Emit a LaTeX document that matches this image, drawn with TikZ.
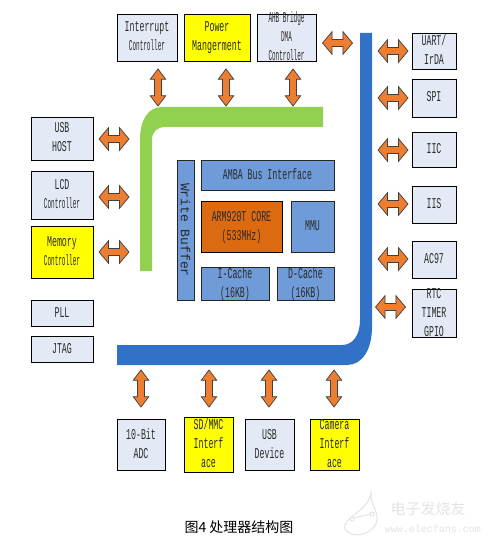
\documentclass[tikz,border=0pt]{standalone}
\usepackage{fontspec}
\usetikzlibrary{shapes.arrows}
\setmainfont{Liberation Mono}[FakeStretch=0.55]
\newfontfamily\fnarrow{Liberation Mono}[FakeStretch=0.40]
\newfontfamily\fwide{Liberation Mono}
\newfontfamily\fcjk{Noto Sans CJK SC}
\definecolor{boxfill}{HTML}{E4EAF5}
\definecolor{chipyellow}{HTML}{FFFF00}
\definecolor{busblue}{HTML}{3272C6}
\definecolor{busgreen}{HTML}{92D050}
\definecolor{arroworange}{HTML}{ED7D31}
\definecolor{innerblue}{HTML}{6F9BD8}
\definecolor{coreorange}{HTML}{DC6A10}
\definecolor{inktext}{HTML}{2A2A2A}
\definecolor{wmark}{HTML}{E4E4E4}
\newcommand{\stacked}[1]{\raisebox{-7.6pt}{\smash{\begin{tabular}{@{}c@{}}#1\end{tabular}}}}
\newcommand{\nw}[1]{{\fnarrow #1}}
% style, name, x1, y1, x2, y2, text
\newcommand{\blockbox}[7]{%
  \pgfmathsetmacro{\bw}{#5-#3}\pgfmathsetmacro{\bh}{#6-#4}%
  \node[#1,minimum width=\bw pt,minimum height=\bh pt] (#2) at ({(#3+#5)/2},{(#4+#6)/2}) {\stacked{#7}};}
\tikzset{
  x=1pt,y=-1pt,
  chip/.style={draw=black,line width=0.8pt,inner sep=0pt,text=inktext,font=\fontsize{15}{19}\selectfont},
  plainbox/.style={chip,fill=boxfill},
  yellowbox/.style={chip,fill=chipyellow},
  innerbox/.style={chip,fill=innerblue,draw=black!85},
  corebox/.style={chip,fill=coreorange},
  harrow/.style={double arrow,draw=black!75,fill=arroworange,line width=0.7pt,inner xsep=0pt,inner ysep=3.2pt,
    double arrow head extend=7.8pt,double arrow tip angle=100,double arrow head indent=0pt,minimum height=30pt},
  varrow/.style={double arrow,rotate=90,draw=black!75,fill=arroworange,line width=0.7pt,inner xsep=0pt,inner ysep=3.2pt,
    double arrow head extend=4.2pt,double arrow tip angle=74,double arrow head indent=0pt,minimum height=37pt},
}
\begin{document}
\begin{tikzpicture}
\useasboundingbox[fill=white] (0,0) rectangle (487,540);
% buses
\fill[busgreen] (140,271) -- (140,140) .. controls (140,120) and (148,107) .. (162,107) -- (323,107) -- (323,127)
  -- (165,127) .. controls (157,127) and (152,132) .. (152,140) -- (152,271) -- cycle;
\fill[busblue] (360,33) -- (372,33) -- (372,327) .. controls (372,350) and (362,365) .. (347,365) -- (117,365) -- (117,345)
  -- (342,345) .. controls (353,345) and (360,335) .. (360,320) -- cycle;
% top row
\blockbox{plainbox}{irq}{117}{14}{177}{61}{Interrupt\\\nw{Controller}}
\blockbox{yellowbox}{pm}{184}{14}{250}{61}{Power\\Mangerment}
\blockbox{plainbox}{ahb}{257}{14}{316}{61}{\nw{AHB Bridge}\\\nw{DMA}\\\nw{Controller}}
% left column
\blockbox{plainbox}{usbh}{31}{117}{93}{160}{USB\\HOST}
\blockbox{plainbox}{lcd}{31}{171}{93}{219}{LCD\\\nw{Controller}}
\blockbox{yellowbox}{mem}{31}{226}{93}{278}{Memory\\\nw{Controller}}
\blockbox{plainbox}{pll}{31}{300}{93}{326}{PLL}
\blockbox{plainbox}{jtag}{31}{336}{93}{362}{JTAG}
% right column
\blockbox{plainbox}{uart}{412}{33}{456}{69}{UART/\\IrDA}
\blockbox{plainbox}{spi}{412}{79}{456}{117}{SPI}
\blockbox{plainbox}{iic}{412}{132}{456}{167}{IIC}
\blockbox{plainbox}{iis}{412}{186}{456}{223}{IIS}
\blockbox{plainbox}{ac}{412}{241}{456}{278}{AC97}
\blockbox{plainbox}{rtc}{412}{289}{456}{337}{RTC\\TIMER\\GPIO}
% bottom row
\blockbox{plainbox}{adc}{117}{419}{165}{470}{10-Bit\\ADC}
\blockbox{yellowbox}{sd}{184}{417}{233}{472}{SD/MMC\\Interf\\ace}
\blockbox{plainbox}{usbd}{245}{419}{294}{470}{USB\\Device}
\blockbox{yellowbox}{cam}{310}{419}{359}{470}{Camera\\Interf\\ace}
% core
\node[innerbox,minimum width=17pt,minimum height=140pt] (wb) at (185.5,230) {};
\node[text=inktext,rotate=-90,inner sep=0pt,font=\fwide\fontsize{13}{15}\selectfont] (wbt) at (wb.center) {Write Buffer};
\blockbox{innerbox}{amba}{201}{160}{334}{190}{AMBA Bus Interface}
\blockbox{corebox}{arm}{201}{201}{282}{252}{ARM920T CORE\\(533MHz)}
\blockbox{innerbox}{mmu}{291}{201}{334}{252}{MMU}
\blockbox{innerbox}{ic}{201}{267}{269}{300}{I-Cache\\(16KB)}
\blockbox{innerbox}{dc}{277}{267}{334}{300}{D-Cache\\(16KB)}
% double arrows
\node[varrow] (a1) at (158,87.5) {};
\node[varrow] (a2) at (226,87.5) {};
\node[varrow] (a3) at (293,87.5) {};
\node[harrow] (a4) at (337.5,43) {};
\node[harrow] (l1) at (114,139) {};
\node[harrow] (l2) at (114,197) {};
\node[harrow] (l3) at (114,252) {};
\node[harrow] (r1) at (393,51) {};
\node[harrow] (r2) at (393,98) {};
\node[harrow] (r3) at (393,150) {};
\node[harrow] (r4) at (393,204) {};
\node[harrow] (r5) at (393,259) {};
\node[harrow] (r6) at (390.5,307) {};
\node[varrow] (b1) at (141,388.5) {};
\node[varrow] (b2) at (209,388.5) {};
\node[varrow] (b3) at (269,388.5) {};
\node[varrow] (b4) at (334,388.5) {};
% caption
\node[text=black,inner sep=0pt,font=\fcjk\fontsize{14}{16}\selectfont] (cap) at (239,527) {图4 处理器结构图};
% watermark
\draw[wmark,line width=1pt] (371,493) .. controls (370,505) and (378,510) .. (377,520) .. controls (374,535) and (352,540) .. (345,529) .. controls (341,518) and (368,512) .. cycle;
\draw[wmark,line width=1pt] (353,518) -- (371,514);
\draw[wmark,line width=1pt,fill=white] (352,519) circle (2) (372,514) circle (2);
\node[text=wmark,inner sep=0pt,font=\fcjk\fontsize{15}{17}\selectfont] (wm1) at (428,509) {电子发烧友};
\node[text=wmark,inner sep=0pt,font=\fwide\fontsize{10}{12}\selectfont] (wm2) at (433,529) {www.elecfans.com};
\end{tikzpicture}
\end{document}
